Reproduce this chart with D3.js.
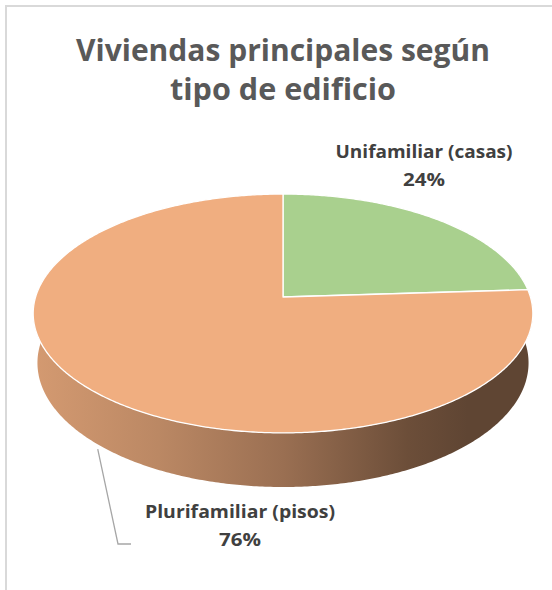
<!DOCTYPE html>
<html><head><meta charset="utf-8">
<script src="https://cdn.jsdelivr.net/npm/d3@7"></script>
<style>body{margin:0;background:#fff}svg{display:block}</style>
</head><body>
<svg id="chart" width="552" height="590"></svg>
<script>
// ---- data ----
const categories = ["Unifamiliar (casas)", "Plurifamiliar (pisos)"];
const values = [24, 76];
const percentLabels = ["24%", "76%"];
const titleLines = ["Viviendas principales según", "tipo de edificio"];
const sliceColors = ["#A9D08E", "#F0AE80"];

// ---- layout ----
const W = 552, H = 590;
const svg = d3.select("#chart");
const cx = 283, cy = 297;           // projected pie centre
const focal = 1581, dist = 6.39;    // perspective camera
const tilt = Math.asin(0.4735);
const sa = Math.sin(tilt), ca = Math.cos(tilt);
const thick = 0.229;                // pie thickness (unit radius)

function proj(theta, h) {
  const u = Math.sin(theta), v = Math.cos(theta);
  const depth = dist + v * ca - h * sa;
  const up = v * sa + h * ca;
  return [cx + focal * u / depth, cy - focal * up / depth];
}
function arcPts(a0, a1, h) {
  const n = Math.max(2, Math.ceil(Math.abs(a1 - a0) / 0.01));
  return d3.range(n + 1).map(i => proj(a0 + (a1 - a0) * i / n, h));
}
const line = d3.line();

// frame
svg.append("line").attr("x1", 6).attr("x2", W).attr("y1", 6).attr("y2", 6)
  .attr("stroke", "#d9d9d9").attr("stroke-width", 2);
svg.append("line").attr("x1", 6).attr("x2", 6).attr("y1", 5).attr("y2", H)
  .attr("stroke", "#d9d9d9").attr("stroke-width", 2);

// title
svg.append("g").selectAll("text").data(titleLines).join("text")
  .attr("x", 283).attr("y", (d, i) => 61 + i * 39)
  .attr("text-anchor", "middle")
  .attr("font-family", "'Open Sans', 'DejaVu Sans', sans-serif")
  .attr("font-weight", 700).attr("font-size", 30)
  .attr("fill", "#595959")
  .attr("textLength", (d, i) => [414, 226][i])
  .attr("lengthAdjust", "spacingAndGlyphs")
  .text(d => d);

const pie = d3.pie().sort(null).startAngle(0).endAngle(2 * Math.PI);
const arcs = pie(values);

// gradient for sides
const defs = svg.append("defs");
const xs = d3.range(0, 2 * Math.PI, 0.01).map(t => proj(t, 0)[0]);
const xMin = d3.min(xs), xMax = d3.max(xs);
arcs.forEach((a, i) => {
  const base = d3.color(sliceColors[i]);
  const g = defs.append("linearGradient").attr("id", "side" + i)
    .attr("gradientUnits", "userSpaceOnUse")
    .attr("x1", xMin).attr("x2", xMax).attr("y1", 0).attr("y2", 0);
  [[0, 0.35], [0.25, 0.7], [0.5, 1.25], [0.75, 2.25], [0.87, 2.6], [1, 2.6]].forEach(([o, k]) => {
    g.append("stop").attr("offset", o).attr("stop-color", base.darker(k).formatHex());
  });
});

// sides (front-facing portion only)
const visA = Math.PI / 2 - 0.35, visB = 3 * Math.PI / 2 + 0.35;
const sideG = svg.append("g");
arcs.forEach((a, i) => {
  const s = Math.max(a.startAngle, visA), e = Math.min(a.endAngle, visB);
  if (e <= s) return;
  const pts = arcPts(s, e, 0).concat(arcPts(e, s, -thick));
  sideG.append("path").attr("d", line(pts) + "Z").attr("fill", `url(#side${i})`);
});

// top faces
const topG = svg.append("g");
arcs.forEach((a, i) => {
  const pts = [[cx, cy]].concat(arcPts(a.startAngle, a.endAngle, 0));
  topG.append("path").attr("d", line(pts) + "Z")
    .attr("fill", sliceColors[i])
    .attr("stroke", "#ffffff").attr("stroke-width", 1.3).attr("stroke-linejoin", "round");
});

// labels
const labelPos = [{x: 424, y: 158}, {x: 240, y: 518}];
const labelLen = [[177, 42], [190, 42]];
const lblG = svg.append("g")
  .attr("font-family", "'Open Sans', 'DejaVu Sans', sans-serif")
  .attr("font-weight", 700).attr("font-size", 18.5).attr("fill", "#404040")
  .attr("text-anchor", "middle");
arcs.forEach((a, i) => {
  const p = labelPos[i];
  lblG.append("text").attr("x", p.x).attr("y", p.y)
    .attr("textLength", labelLen[i][0]).attr("lengthAdjust", "spacingAndGlyphs")
    .text(categories[i]);
  lblG.append("text").attr("x", p.x).attr("y", p.y + 28)
    .attr("textLength", labelLen[i][1]).attr("lengthAdjust", "spacingAndGlyphs")
    .text(percentLabels[i]);
});

// leader line for the large slice
const anchor = proj(224 * Math.PI / 180, -thick);
const lp = labelPos[1];
svg.append("path")
  .attr("d", line([[anchor[0] + 2, anchor[1] + 6], [lp.x - 122, lp.y + 26], [lp.x - 109, lp.y + 26]]))
  .attr("fill", "none").attr("stroke", "#a6a6a6").attr("stroke-width", 1.3);
</script>
</body></html>
